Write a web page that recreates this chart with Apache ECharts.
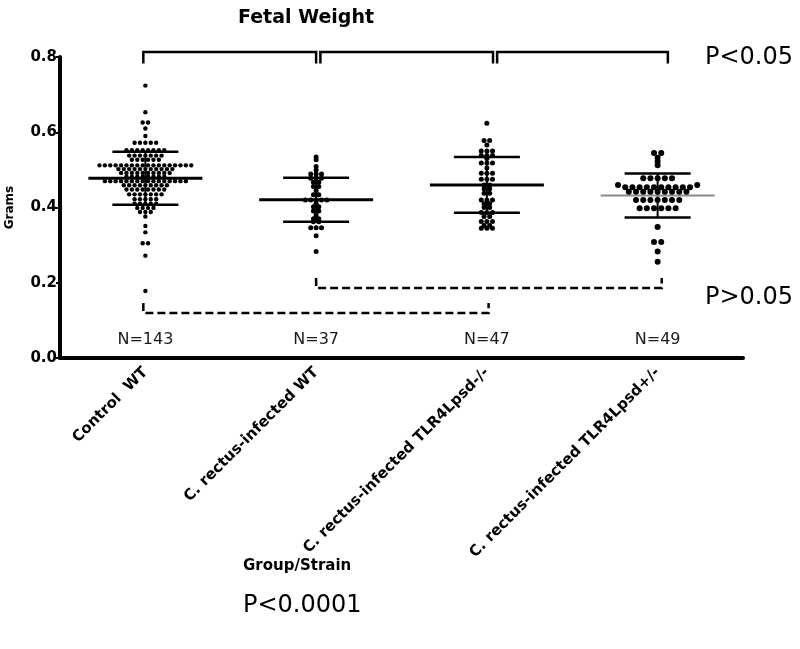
<!DOCTYPE html>
<html><head><meta charset="utf-8">
<script src="https://cdn.jsdelivr.net/npm/echarts@6/dist/echarts.min.js"></script>
<style>html,body{margin:0;padding:0;background:#fff}#chart{width:800px;height:649px}</style>
</head><body><div id="chart"></div>
<script>
// ---------------- DATA ----------------
const categories = ['Control  WT', 'C. rectus-infected WT', 'C. rectus-infected TLR4Lpsd-/-', 'C. rectus-infected TLR4Lpsd+/-'];
const yTicks = [0.0, 0.2, 0.4, 0.6, 0.8];

const controlWT = [
  0.724, 0.653, 0.626, 0.626, 0.610, 0.590,
  0.572, 0.572, 0.572, 0.572, 0.572,
  0.552, 0.552, 0.552, 0.552, 0.552, 0.552, 0.552, 0.552,
  0.538, 0.538, 0.538, 0.538, 0.538, 0.538, 0.538,
  0.527, 0.527, 0.527, 0.527, 0.527, 0.527,
  0.512, 0.512, 0.512, 0.512, 0.512, 0.512, 0.512, 0.512, 0.512, 0.512, 0.512, 0.512, 0.512, 0.512, 0.512, 0.512, 0.512, 0.512,
  0.502, 0.502, 0.502, 0.502, 0.502, 0.502, 0.502, 0.502, 0.502, 0.502, 0.502,
  0.492, 0.492, 0.492, 0.492, 0.492, 0.492, 0.492, 0.492, 0.492, 0.492,
  0.482, 0.482, 0.482, 0.482, 0.482, 0.482, 0.482, 0.482,
  0.470, 0.470, 0.470, 0.470, 0.470, 0.470, 0.470, 0.470, 0.470, 0.470, 0.470, 0.470, 0.470, 0.470, 0.470, 0.470,
  0.459, 0.459, 0.459, 0.459, 0.459, 0.459, 0.459, 0.459, 0.459,
  0.448, 0.448, 0.448, 0.448, 0.448, 0.448, 0.448, 0.448,
  0.435, 0.435, 0.435, 0.435, 0.435, 0.435, 0.435,
  0.422, 0.422, 0.422, 0.422, 0.422,
  0.410, 0.410, 0.410, 0.410, 0.410,
  0.399, 0.399, 0.399, 0.399,
  0.388, 0.388, 0.388,
  0.376, 0.351, 0.334, 0.305, 0.305, 0.272, 0.178
];
const infectedWT = [
  0.534, 0.527, 0.509, 0.500,
  0.489, 0.489, 0.489,
  0.478, 0.478, 0.478,
  0.467, 0.467,
  0.456, 0.456,
  0.445,
  0.434, 0.434,
  0.420, 0.420, 0.420, 0.420, 0.420,
  0.411,
  0.402, 0.402,
  0.391, 0.391,
  0.380,
  0.370, 0.370,
  0.362, 0.362,
  0.346, 0.346, 0.346,
  0.325, 0.283
];
const tlr4Homo = [
  0.624,
  0.578, 0.578,
  0.566,
  0.550, 0.550, 0.550,
  0.538, 0.538, 0.538,
  0.530,
  0.518, 0.518, 0.518,
  0.505,
  0.491, 0.491, 0.491,
  0.475, 0.475, 0.475,
  0.460, 0.460,
  0.450, 0.450,
  0.438, 0.438,
  0.420, 0.420, 0.420,
  0.410, 0.410,
  0.400, 0.400,
  0.387, 0.387, 0.387,
  0.376, 0.376,
  0.363, 0.363, 0.363,
  0.352, 0.352,
  0.345, 0.345, 0.345
];
const tlr4Het = [
  0.545, 0.545, 0.532, 0.522, 0.512,
  0.478, 0.478, 0.478, 0.478, 0.478,
  0.460, 0.460,
  0.454, 0.454, 0.454, 0.454, 0.454, 0.454, 0.454, 0.454, 0.454, 0.454,
  0.442, 0.442, 0.442, 0.442, 0.442, 0.442, 0.442, 0.442, 0.442,
  0.420, 0.420, 0.420, 0.420, 0.420, 0.420, 0.420,
  0.398, 0.398, 0.398, 0.398, 0.398, 0.398,
  0.348, 0.308, 0.308, 0.283, 0.256
];
const groupMeans = [0.478, 0.4205, 0.460, 0.432];
const groupSDs = [0.0705, 0.0585, 0.074, 0.0585];
const groupN = [143, 37, 47, 49];

// ---------------- LAYOUT / STYLE ----------------
const groups = [controlWT, infectedWT, tlr4Homo, tlr4Het];
const dotStyle = [
  {size: 4.4, spacing: 5.4},
  {size: 5.0, spacing: 5.4},
  {size: 5.0, spacing: 5.6},
  {size: 6.0, spacing: 7.2}
];
const meanStyle = [
  {color: '#000', w: 3},
  {color: '#000', w: 3},
  {color: '#000', w: 3},
  {color: '#8a8a8a', w: 2}
];
const meanHalf = 57, sdHalf = 33;
const rowTol = 0.0065;
const nLabelY = 0.048;
// brackets: [x1, x2, yLine, yTick, dashed]
const brackets = [
  [-0.012, 1.0, 0.813, 0.783, 0],
  [1.025, 2.036, 0.813, 0.783, 0],
  [2.06, 3.06, 0.813, 0.783, 0],
  [-0.012, 2.01, 0.1196, 0.146, 1],
  [1.0, 3.024, 0.186, 0.2126, 1]
];
const FONT = '"DejaVu Sans", "Liberation Sans", sans-serif';

function swarm(values, gi) {
  const sorted = values.slice().sort((a, b) => a - b);
  const rows = []; let cur = null;
  sorted.forEach(v => {
    if (cur && v - cur.start <= rowTol) cur.vals.push(v);
    else { cur = {start: v, vals: [v]}; rows.push(cur); }
  });
  const out = [];
  rows.forEach(r => {
    const n = r.vals.length;
    const slots = [];
    for (let k = 0; k < n; k++) slots.push(k - (n - 1) / 2);
    slots.sort((a, b) => Math.abs(a) - Math.abs(b) || a - b);
    r.vals.forEach((v, k) => out.push([gi, v, slots[k]]));
  });
  return out;
}

const dotSeries = groups.map((vals, gi) => ({
  type: 'custom', xAxisIndex: 1, yAxisIndex: 0, z: 5,
  data: swarm(vals, gi),
  encode: {x: 0, y: 1},
  renderItem: (params, api) => {
    const g = api.value(0);
    const p = api.coord([g, api.value(1)]);
    const s = dotStyle[g];
    return {type: 'circle', shape: {cx: p[0] + api.value(2) * s.spacing, cy: p[1], r: s.size / 2}, style: {fill: '#000'}};
  }
}));

const meanSeries = {
  type: 'custom', xAxisIndex: 1, yAxisIndex: 0, z: 3,
  data: groupMeans.map((m, i) => [i, m, groupSDs[i]]),
  encode: {x: 0, y: 1},
  renderItem: (params, api) => {
    const gi = api.value(0), m = api.value(1), sd = api.value(2);
    const c = api.coord([gi, m]), t = api.coord([gi, m + sd]), b = api.coord([gi, m - sd]);
    const st = meanStyle[gi];
    return {type: 'group', children: [
      {type: 'line', shape: {x1: c[0], y1: t[1], x2: c[0], y2: b[1]}, style: {stroke: '#000', lineWidth: 2}},
      {type: 'line', shape: {x1: c[0] - sdHalf, y1: t[1], x2: c[0] + sdHalf, y2: t[1]}, style: {stroke: '#000', lineWidth: 2.5}},
      {type: 'line', shape: {x1: c[0] - sdHalf, y1: b[1], x2: c[0] + sdHalf, y2: b[1]}, style: {stroke: '#000', lineWidth: 2.5}},
      {type: 'line', shape: {x1: c[0] - meanHalf, y1: c[1], x2: c[0] + meanHalf, y2: c[1]}, style: {stroke: st.color, lineWidth: st.w}}
    ]};
  }
};

const bracketSeries = {
  type: 'custom', xAxisIndex: 1, yAxisIndex: 0, z: 2, clip: false,
  data: brackets,
  renderItem: (params, api) => {
    const x1 = api.value(0), x2 = api.value(1), yl = api.value(2), yt = api.value(3), d = api.value(4);
    const a = api.coord([x1, yt]), b = api.coord([x1, yl]), c = api.coord([x2, yl]), e = api.coord([x2, yt]);
    return {type: 'polyline', shape: {points: [a, b, c, e]},
      style: {stroke: '#000', lineWidth: 2.5, fill: null, lineDash: d ? [8, 4] : null}};
  }
};

const nSeries = {
  type: 'custom', xAxisIndex: 1, yAxisIndex: 0, z: 4,
  data: groupN.map((n, i) => [i, n]),
  renderItem: (params, api) => {
    const c = api.coord([api.value(0), nLabelY]);
    return {type: 'text', x: c[0], y: c[1], style: {text: 'N=' + api.value(1), fill: '#1a1a1a',
      font: '16px ' + FONT, align: 'center', verticalAlign: 'middle'}};
  }
};

const chart = echarts.init(document.getElementById('chart'), null, {renderer: 'canvas'});
chart.setOption({
  animation: false,
  backgroundColor: '#fff',
  title: {text: 'Fetal Weight', left: 233, top: 4,
    textStyle: {fontFamily: FONT, fontWeight: 'bold', fontSize: 19, color: '#000'}},
  grid: {left: 60, right: 57, top: 57, bottom: 291, containLabel: false, outerBoundsMode: 'none'},
  xAxis: [
    {type: 'category', data: categories, boundaryGap: true,
      axisLine: {onZero: false, lineStyle: {color: '#000', width: 4}},
      axisTick: {alignWithLabel: true, length: 6, lineStyle: {color: '#000', width: 2}},
      axisLabel: {rotate: 45, interval: 0, margin: 12, color: '#000', fontFamily: FONT, fontWeight: 'bold', fontSize: 15},
      splitLine: {show: false}},
    {type: 'value', min: -0.5, max: 3.5, show: false, splitLine: {show: false}}
  ],
  yAxis: {type: 'value', min: yTicks[0], max: yTicks[yTicks.length - 1], interval: yTicks[1] - yTicks[0],
    name: 'Grams', nameLocation: 'middle', nameGap: 44,
    nameTextStyle: {fontFamily: FONT, fontWeight: 'bold', fontSize: 12, color: '#000'},
    axisLine: {show: true, onZero: false, lineStyle: {color: '#000', width: 4}},
    axisTick: {show: true, length: 4, lineStyle: {color: '#000', width: 2}},
    axisLabel: {margin: 3, color: '#000', fontFamily: FONT, fontWeight: 'bold', fontSize: 15,
      formatter: v => v.toFixed(1)},
    splitLine: {show: false}},
  graphic: [
    {type: 'text', left: 705, top: 46, style: {text: 'P<0.05', font: '24px ' + FONT, fill: '#000'}},
    {type: 'text', left: 705, top: 286, style: {text: 'P>0.05', font: '24px ' + FONT, fill: '#000'}},
    {type: 'text', left: 243, top: 559, style: {text: 'Group/Strain', font: 'bold 15px ' + FONT, fill: '#000'}},
    {type: 'text', left: 243, top: 594, style: {text: 'P<0.0001', font: '24px ' + FONT, fill: '#000'}}
  ],
  series: [bracketSeries, meanSeries, nSeries].concat(dotSeries)
});
</script>
</body></html>
